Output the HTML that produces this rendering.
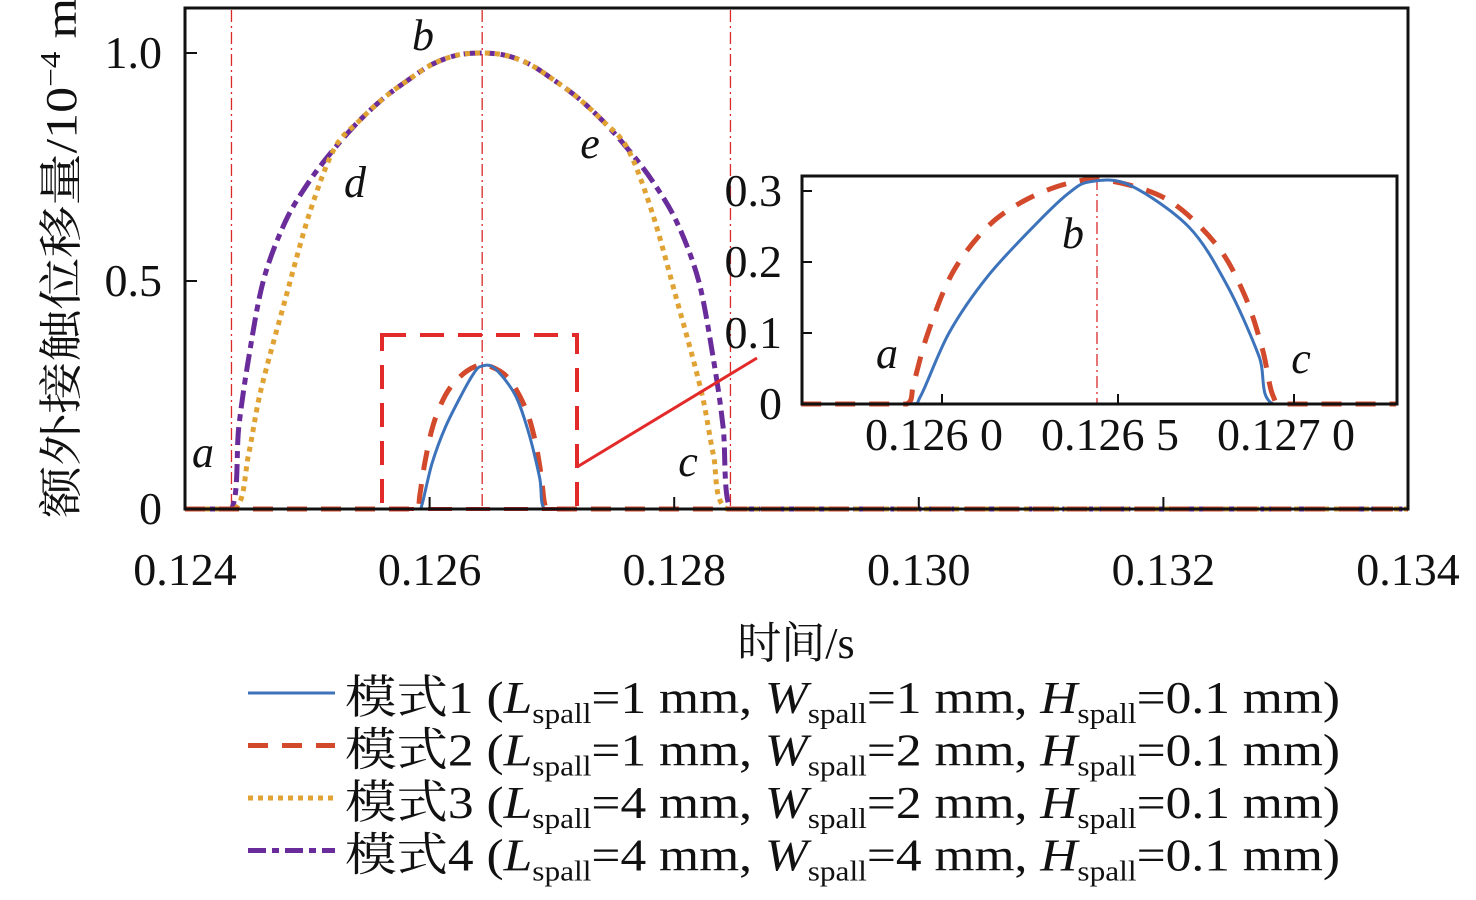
<!DOCTYPE html>
<html><head><meta charset="utf-8">
<style>
html,body{margin:0;padding:0;background:#fff;}
svg{display:block;}
svg text{font-family:"Liberation Serif","Noto Serif CJK SC",serif;fill:#111;}
</style></head>
<body>
<svg id="chart" width="1476" height="900" viewBox="0 0 1476 900" font-family="Liberation Serif, Noto Serif CJK SC, serif" xmlns="http://www.w3.org/2000/svg"></svg>
<script>
// ---- data ----
const xTicks = [0.124, 0.126, 0.128, 0.130, 0.132, 0.134];
const xTickLabels = ["0.124", "0.126", "0.128", "0.130", "0.132", "0.134"];
const yTicks = [0, 0.5, 1.0];
const yTickLabels = ["0", "0.5", "1.0"];
const insetXTicks = [0.1260, 0.1265, 0.1270];
const insetXTickLabels = ["0.126 0", "0.126 5", "0.127 0"];
const insetYTicks = [0, 0.1, 0.2, 0.3];
const insetYTickLabels = ["0", "0.1", "0.2", "0.3"];
const markerTimes = [0.12438, 0.12643, 0.12846];

const mode1T = [0.1240, 0.12591, 0.12594, 0.12602, 0.12613, 0.12627, 0.12636, 0.12642, 0.12653, 0.12670, 0.12681, 0.12690, 0.12694, 0.1340];
const mode1V = [0, 0, 0.012, 0.10, 0.180, 0.255, 0.297, 0.313, 0.309, 0.25, 0.167, 0.068, 0, 0];
const mode2T = [0.1240, 0.12590, 0.12592, 0.12596, 0.12603, 0.12613, 0.12624, 0.12636, 0.12647, 0.12664, 0.12678, 0.12686, 0.12691, 0.12694, 0.12698, 0.1340];
const mode2V = [0, 0, 0.03, 0.100, 0.185, 0.250, 0.288, 0.311, 0.315, 0.288, 0.224, 0.153, 0.078, 0.012, 0, 0];
const mode3T = [0.1240, 0.12441, 0.12452, 0.12462, 0.12482, 0.12502, 0.12522, 0.12542, 0.12562, 0.12582, 0.12602, 0.12622, 0.12642, 0.12662, 0.12682, 0.12702, 0.12722, 0.12742, 0.12762, 0.12782, 0.12802, 0.12822, 0.12832, 0.12843, 0.1340];
const mode3V = [0, 0, 0.12, 0.26, 0.46, 0.65, 0.79, 0.85, 0.90, 0.94, 0.975, 0.995, 1.0, 0.995, 0.975, 0.94, 0.90, 0.85, 0.79, 0.65, 0.46, 0.26, 0.12, 0, 0];
const mode4T = [0.1240, 0.12438, 0.12444, 0.12452, 0.12464, 0.12482, 0.12502, 0.12522, 0.12542, 0.12562, 0.12582, 0.12602, 0.12622, 0.12642, 0.12662, 0.12682, 0.12702, 0.12722, 0.12742, 0.12762, 0.12782, 0.12802, 0.12820, 0.12832, 0.12840, 0.12846, 0.1340];
const mode4V = [0, 0, 0.18, 0.33, 0.50, 0.63, 0.72, 0.79, 0.85, 0.90, 0.94, 0.975, 0.995, 1.0, 0.995, 0.975, 0.94, 0.90, 0.85, 0.79, 0.72, 0.63, 0.50, 0.33, 0.18, 0, 0];

// ---- layout ----
const NS = "http://www.w3.org/2000/svg";
const svg = document.getElementById("chart");
const FONT = '"Liberation Serif", "Noto Serif CJK SC", serif';
const P = {x0: 185, x1: 1408, y0: 509, y1: 8};
const xMin = 0.124, xMax = 0.134, yMin = 0, yMax = 1.0;
const sx = t => P.x0 + (t - xMin) / (xMax - xMin) * (P.x1 - P.x0);
const sy = v => 509 - (v - yMin) / (yMax - yMin) * 456;
const I = {x0: 802, x1: 1397, y0: 404, y1: 176};
const isx = t => 942 + (t - 0.1260) / 0.0005 * 176;
const isy = v => 404 - v / 0.1 * 71;

function el(tag, attrs, parent) {
  const e = document.createElementNS(NS, tag);
  for (const k in attrs) e.setAttribute(k, attrs[k]);
  (parent || svg).appendChild(e);
  return e;
}
function txt(s, x, y, size, anchor, parent, extra) {
  const t = el("text", Object.assign({x: x, y: y, "font-size": size, "text-anchor": anchor || "middle", "font-family": FONT}, extra || {}), parent);
  t.textContent = s;
  return t;
}
function pathFrom(T, V, fx, fy, lo, hi) {
  const pts = [];
  for (let i = 0; i < T.length; i++) {
    const t = Math.min(Math.max(T[i], lo), hi);
    pts.push([fx(t), fy(V[i])]);
  }
  let d = "M" + pts[0][0].toFixed(1) + "," + pts[0][1].toFixed(1);
  for (let i = 0; i < pts.length - 1; i++) {
    const p0 = pts[Math.max(i - 1, 0)], p1 = pts[i], p2 = pts[i + 1], p3 = pts[Math.min(i + 2, pts.length - 1)];
    const flat = p1[1] === p2[1];
    if (flat) { d += "L" + p2[0].toFixed(1) + "," + p2[1].toFixed(1); continue; }
    const k = 0.16;
    let c1 = [p1[0] + (p2[0] - p0[0]) * k, p1[1] + (p2[1] - p0[1]) * k];
    let c2 = [p2[0] - (p3[0] - p1[0]) * k, p2[1] - (p3[1] - p1[1]) * k];
    c1[0] = Math.min(Math.max(c1[0], p1[0]), p2[0]);
    c2[0] = Math.min(Math.max(c2[0], p1[0]), p2[0]);
    d += "C" + c1[0].toFixed(1) + "," + c1[1].toFixed(1) + " " + c2[0].toFixed(1) + "," + c2[1].toFixed(1) + " " + p2[0].toFixed(1) + "," + p2[1].toFixed(1);
  }
  return d;
}

const styles = [
  {T: mode1T, V: mode1V, c: "#3d73bb", w: 3, dash: "", name: "mode1-line"},
  {T: mode2T, V: mode2V, c: "#d2492b", w: 5, dash: "20,14", name: "mode2-line"},
  {T: mode3T, V: mode3V, c: "#e1a234", w: 5, dash: "5,5", name: "mode3-line"},
  {T: mode4T, V: mode4V, c: "#6a2c9a", w: 5, dash: "18,6,7,6", name: "mode4-line"}
];

// main plot
const main = el("g", {});


markerTimes.forEach(t => {
  const l = el("line", {x1: sx(t), x2: sx(t), y1: 10, y2: 507, stroke: "#d92a2a", "stroke-width": 1.3, "stroke-dasharray": "12,4,2,4"}, main);
  
  
});
[3, 2, 1, 0].forEach(i => {
  const s = styles[i];
  const p = el("path", {d: pathFrom(s.T, s.V, sx, sy, xMin, xMax), fill: "none", stroke: s.c, "stroke-width": s.w, "stroke-dasharray": s.dash}, main);
  
  
});
const zb = el("rect", {x: 382, y: 335, width: 195, height: 174, fill: "none", stroke: "#e32a2a", "stroke-width": 4, "stroke-dasharray": "24,14"}, main);


const cn = el("line", {x1: 577, y1: 467, x2: 757, y2: 358, stroke: "#e32a2a", "stroke-width": 3}, main);


const fr = el("rect", {x: P.x0, y: P.y1, width: P.x1 - P.x0, height: P.y0 - P.y1, fill: "none", stroke: "#111", "stroke-width": 3}, main);


xTicks.forEach((t, i) => {
  el("line", {x1: sx(t), x2: sx(t), y1: P.y0, y2: P.y0 - 12, stroke: "#111", "stroke-width": 2}, main);
  const lb = txt(xTickLabels[i], sx(t), 585, 46, "middle", main);
  
  
});
yTicks.forEach((v, i) => {
  el("line", {x1: P.x0, x2: P.x0 + 12, y1: sy(v), y2: sy(v), stroke: "#111", "stroke-width": 2}, main);
  const lb = txt(yTickLabels[i], 162, sy(v) + 15, 46, "end", main);
  
  
});
[["a", 203, 467], ["b", 423, 50], ["d", 355, 197], ["e", 590, 158], ["c", 688, 476]].forEach(a => {
  const lb = txt(a[0], a[1], a[2], 44, "middle", main, {"font-style": "italic"});
  
  
});

// axis titles
const xt = txt("时间/s", 796, 658, 44, "middle");


const yt = el("text", {x: 0, y: 0, "font-size": 44, "font-family": FONT, "text-anchor": "middle", transform: "translate(76,258) rotate(-90)", textLength: 520, lengthAdjust: "spacingAndGlyphs"});
yt.innerHTML = '额外接触位移量/10<tspan dy="-16" font-size="28">−4</tspan><tspan dy="16"> m</tspan>';



// inset
const ins = el("g", {});


el("rect", {x: I.x0, y: I.y1, width: I.x1 - I.x0, height: I.y0 - I.y1, fill: "#fff", stroke: "none"}, ins);
const im = el("line", {x1: 1097, x2: 1097, y1: I.y1 + 2, y2: I.y0, stroke: "#d92a2a", "stroke-width": 1.3, "stroke-dasharray": "12,4,2,4"}, ins);


const ilo = 0.12560, ihi = 0.12729;
[1, 0].forEach(i => {
  const s = styles[i];
  const p = el("path", {d: pathFrom(s.T, s.V, isx, isy, ilo, ihi), fill: "none", stroke: s.c, "stroke-width": s.w, "stroke-dasharray": s.dash}, ins);
  
  
});
const ifr = el("rect", {x: I.x0, y: I.y1, width: I.x1 - I.x0, height: I.y0 - I.y1, fill: "none", stroke: "#111", "stroke-width": 3}, ins);


insetXTicks.forEach((t, i) => {
  el("line", {x1: isx(t), x2: isx(t), y1: I.y0, y2: I.y0 - 10, stroke: "#111", "stroke-width": 2}, ins);
  const lb = txt(insetXTickLabels[i], isx(t) - 8, 450, 46, "middle", ins);
  
  
});
insetYTicks.forEach((v, i) => {
  el("line", {x1: I.x0, x2: I.x0 + 10, y1: isy(v), y2: isy(v), stroke: "#111", "stroke-width": 2}, ins);
  const lb = txt(insetYTickLabels[i], 782, isy(v) + 15, 46, "end", ins);
  
  
});
[["a", 887, 368], ["b", 1073, 248], ["c", 1301, 373]].forEach(a => {
  const lb = txt(a[0], a[1], a[2], 44, "middle", ins, {"font-style": "italic"});
  
  
});

// legend
const legendLabels = [["1", "1", "1"], ["2", "1", "2"], ["3", "4", "2"], ["4", "4", "4"]];
const leg = el("g", {});


legendLabels.forEach((L, i) => {
  const y = 693 + i * 52.5;
  const s = styles[i];
  const g = el("g", {}, leg);
  
  
  el("line", {x1: 248, x2: 335, y1: y, y2: y, stroke: s.c, "stroke-width": s.w, "stroke-dasharray": s.dash}, g);
  const t = el("text", {x: 345, y: y + 20, "font-size": 46, "font-family": FONT, textLength: 995, lengthAdjust: "spacingAndGlyphs"}, g);
  t.innerHTML = '模式' + L[0] + ' (<tspan font-style="italic">L</tspan><tspan font-size="28" dy="10">spall</tspan><tspan dy="-10">=' + L[1] +
    ' mm, </tspan><tspan font-style="italic">W</tspan><tspan font-size="28" dy="10">spall</tspan><tspan dy="-10">=' + L[2] +
    ' mm, </tspan><tspan font-style="italic">H</tspan><tspan font-size="28" dy="10">spall</tspan><tspan dy="-10">=0.1 mm)</tspan>';
});
</script>
</body></html>
